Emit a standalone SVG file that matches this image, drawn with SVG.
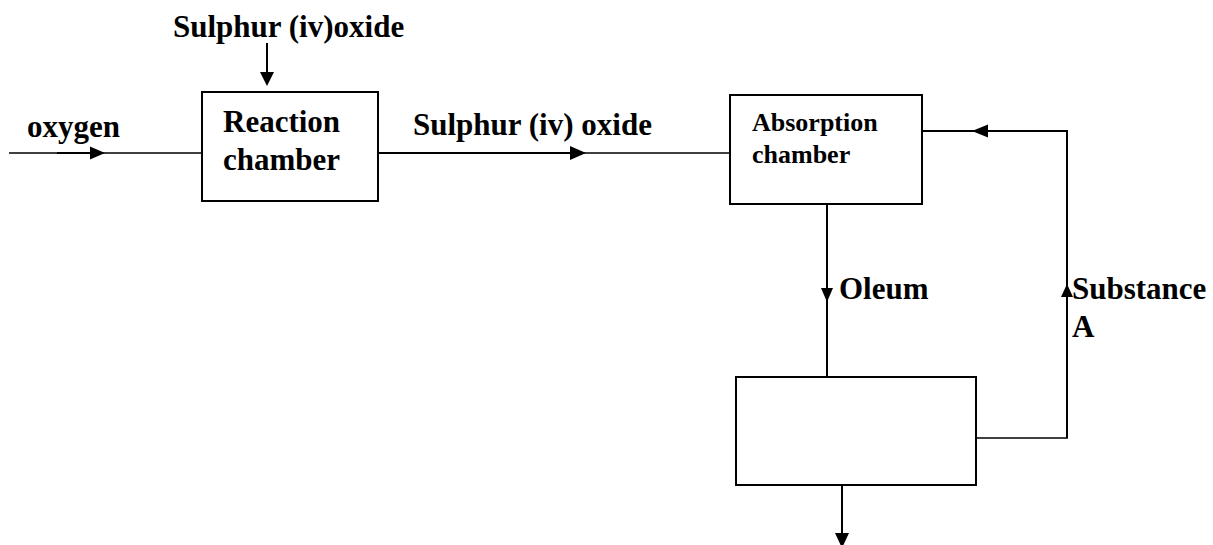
<svg xmlns="http://www.w3.org/2000/svg" width="1213" height="545" viewBox="0 0 1213 545">
<style>
.box{fill:#fff;stroke:#000;stroke-width:2}
.ln{fill:none;stroke:#000;stroke-width:2}
.thin{fill:none;stroke:#000;stroke-width:1.5}
.ah{fill:#000;stroke:none}
.t{font-family:"Liberation Serif","Times New Roman",serif;font-weight:bold;font-size:31px;fill:#000}
.s{font-size:26px}
</style>
<rect width="1213" height="545" fill="#fff"/>
<g id="connectors">
  <!-- oxygen in -->
  <line class="thin" x1="9" y1="153" x2="202" y2="153"/>
  <line class="ln" x1="57" y1="153" x2="92" y2="153" stroke-width="2.5"/>
  <polygon class="ah" points="105,153 90,146.5 90,159.5"/>
  <!-- sulphur top in -->
  <line class="ln" x1="267" y1="43" x2="267" y2="76"/>
  <polygon class="ah" points="267,86 260,72 274,72"/>
  <!-- reaction to absorption -->
  <line class="ln" x1="378" y1="153" x2="572" y2="153" stroke-width="2.5"/>
  <polygon class="ah" points="586,153 570,146 570,160"/>
  <line class="thin" x1="584" y1="153" x2="730" y2="153"/>
  <!-- oleum down -->
  <line class="ln" x1="827" y1="204" x2="827" y2="377"/>
  <polygon class="ah" points="827,302 821,288 833,288"/>
  <!-- bottom out -->
  <line class="ln" x1="842" y1="485" x2="842" y2="536"/>
  <polygon class="ah" points="842,548 835,533 849,533"/>
  <!-- recycle substance A -->
  <line class="thin" x1="972" y1="438" x2="1068" y2="438"/>
  <line class="ln" x1="1067" y1="438" x2="1067" y2="130"/>
  <polygon class="ah" points="1067,284 1061,297 1073,297"/>
  <line class="ln" x1="1068" y1="131" x2="1035" y2="131"/>
  <line class="ln" x1="1035" y1="131" x2="985" y2="131" stroke-width="2.5"/>
  <polygon class="ah" points="972,131 988,124.5 988,137.5"/>
  <line class="ln" x1="922" y1="131" x2="975" y2="131"/>
</g>
<g id="reaction">
  <rect class="box" x="202" y="92" width="176" height="109"/>
  <text class="t" x="223" y="132">Reaction</text>
  <text class="t" x="223" y="170">chamber</text>
</g>
<g id="absorption">
  <rect class="box" x="730" y="95" width="192" height="109"/>
  <text class="t s" x="752" y="131">Absorption</text>
  <text class="t s" x="752" y="163">chamber</text>
</g>
<g id="tank">
  <rect class="box" x="736" y="377" width="240" height="108"/>
</g>
<g id="labels">
  <text class="t" x="173" y="37">Sulphur (iv)oxide</text>
  <text class="t" x="27" y="137">oxygen</text>
  <text class="t" x="413" y="135">Sulphur (iv) oxide</text>
  <text class="t" x="839" y="299">Oleum</text>
  <text class="t" x="1072" y="299">Substance</text>
  <text class="t" x="1072" y="337">A</text>
</g>
</svg>
